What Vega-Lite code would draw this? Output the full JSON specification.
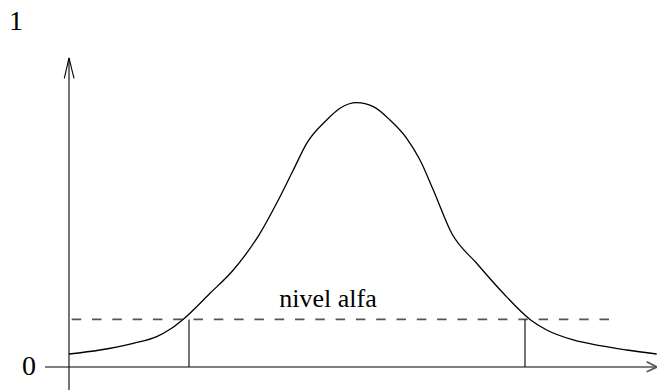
{
  "$schema": "https://vega.github.io/schema/vega-lite/v6.json",
  "width": 657,
  "height": 392,
  "padding": 0,
  "autosize": "none",
  "config": {"view": {"stroke": null}},
  "datasets": {
    "curve": [
      {"x": 0.0, "y": 0.0377},
      {"x": 0.31, "y": 0.0493},
      {"x": 0.643, "y": 0.0687},
      {"x": 0.877, "y": 0.0878},
      {"x": 1.01, "y": 0.1093},
      {"x": 1.14, "y": 0.138},
      {"x": 1.41, "y": 0.2136},
      {"x": 1.643, "y": 0.2812},
      {"x": 1.91, "y": 0.3875},
      {"x": 2.093, "y": 0.4841},
      {"x": 2.243, "y": 0.571},
      {"x": 2.377, "y": 0.6484},
      {"x": 2.577, "y": 0.716},
      {"x": 2.71, "y": 0.7499},
      {"x": 2.877, "y": 0.7661},
      {"x": 3.043, "y": 0.7545},
      {"x": 3.21, "y": 0.716},
      {"x": 3.377, "y": 0.6629},
      {"x": 3.51, "y": 0.6},
      {"x": 3.643, "y": 0.513},
      {"x": 3.827, "y": 0.3875},
      {"x": 4.077, "y": 0.3006},
      {"x": 4.343, "y": 0.2136},
      {"x": 4.61, "y": 0.138},
      {"x": 4.777, "y": 0.1072},
      {"x": 5.043, "y": 0.0783},
      {"x": 5.31, "y": 0.0617},
      {"x": 5.577, "y": 0.0493},
      {"x": 5.877, "y": 0.0377}
    ],
    "alpha": [{"x": 0.027, "x2": 5.41, "y": 0.138}],
    "cuts": [{"x": 1.2, "y": 0, "y2": 0.138}, {"x": 4.56, "y": 0, "y2": 0.138}],
    "yaxis": [
      {"x": 0, "y": -0.0667, "x2": 0, "y2": 0.8957},
      {"x": -0.047, "y": 0.8368, "x2": 0, "y2": 0.8957},
      {"x": 0.05, "y": 0.8368, "x2": 0, "y2": 0.8957}
    ],
    "xaxis": [
      {"x": -0.24, "y": 0, "x2": 5.88, "y2": 0},
      {"x": 5.777, "y": 0.0154, "x2": 5.88, "y2": 0},
      {"x": 5.777, "y": -0.0136, "x2": 5.88, "y2": 0}
    ],
    "ticks": [{"x": -0.53, "y": 1, "label": "1"}, {"x": -0.4, "y": 0, "label": "0"}],
    "note": [{"x": 2.59, "y": 0.1748, "label": "nivel alfa"}]
  },
  "layer": [
    {
      "data": {"name": "xaxis"},
      "mark": {"type": "rule", "stroke": "#555555", "strokeWidth": 1.6},
      "encoding": {
        "x": {"field": "x", "type": "quantitative", "scale": {"domain": [-0.69, 5.88], "nice": false, "zero": false}, "axis": null},
        "y": {"field": "y", "type": "quantitative", "scale": {"domain": [-0.07246, 1.06377], "nice": false, "zero": false}, "axis": null},
        "x2": {"field": "x2"},
        "y2": {"field": "y2"}
      }
    },
    {
      "data": {"name": "yaxis"},
      "mark": {"type": "rule", "stroke": "#000000", "strokeWidth": 1.1},
      "encoding": {
        "x": {"field": "x", "type": "quantitative"},
        "y": {"field": "y", "type": "quantitative"},
        "x2": {"field": "x2"},
        "y2": {"field": "y2"}
      }
    },
    {
      "data": {"name": "alpha"},
      "mark": {"type": "rule", "stroke": "#555555", "strokeWidth": 1.7, "strokeDash": [9.5, 10.8]},
      "encoding": {
        "x": {"field": "x", "type": "quantitative"},
        "x2": {"field": "x2"},
        "y": {"field": "y", "type": "quantitative"}
      }
    },
    {
      "data": {"name": "cuts"},
      "mark": {"type": "rule", "stroke": "#000000", "strokeWidth": 1.1},
      "encoding": {
        "x": {"field": "x", "type": "quantitative"},
        "y": {"field": "y", "type": "quantitative"},
        "y2": {"field": "y2"}
      }
    },
    {
      "data": {"name": "curve"},
      "mark": {"type": "line", "interpolate": "monotone", "stroke": "#000000", "strokeWidth": 1.3},
      "encoding": {
        "x": {"field": "x", "type": "quantitative"},
        "y": {"field": "y", "type": "quantitative"}
      }
    },
    {
      "data": {"name": "ticks"},
      "mark": {"type": "text", "font": "Liberation Serif", "fontSize": 28, "align": "center", "baseline": "middle", "fill": "#000000"},
      "encoding": {
        "x": {"field": "x", "type": "quantitative"},
        "y": {"field": "y", "type": "quantitative"},
        "text": {"field": "label"}
      }
    },
    {
      "data": {"name": "note"},
      "mark": {"type": "text", "font": "Liberation Serif", "fontSize": 26, "align": "center", "baseline": "alphabetic", "fill": "#000000"},
      "encoding": {
        "x": {"field": "x", "type": "quantitative"},
        "y": {"field": "y", "type": "quantitative"},
        "text": {"field": "label"}
      }
    }
  ]
}
